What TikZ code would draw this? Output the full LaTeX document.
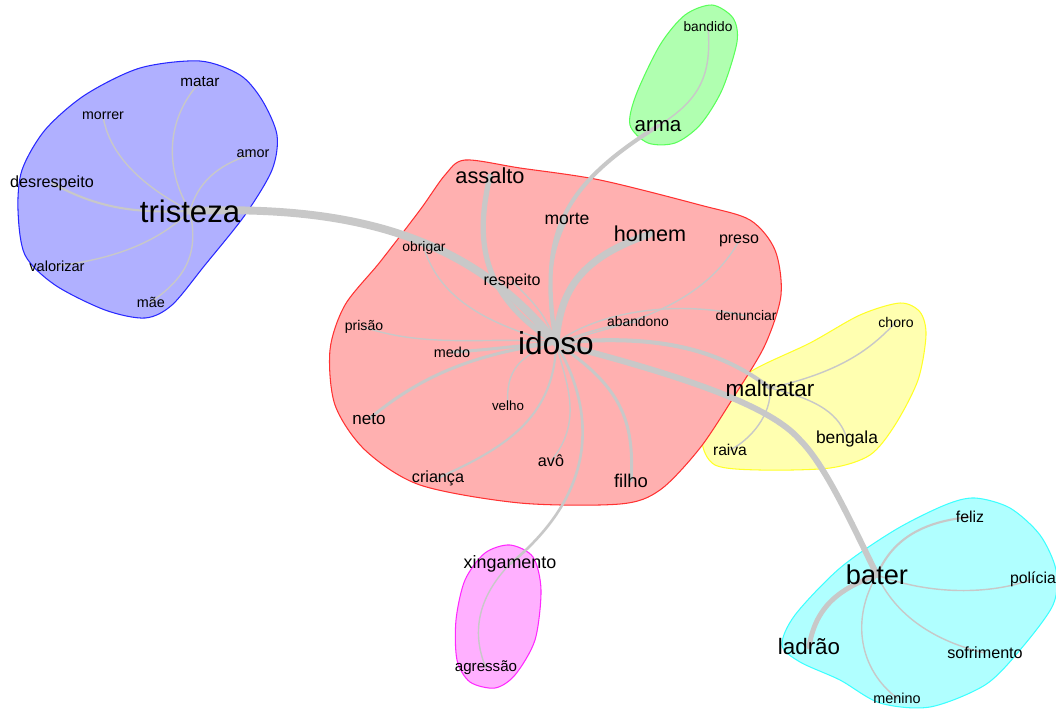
\documentclass[tikz,border=0pt]{standalone}
\usepackage{fontspec}
\setmainfont{Liberation Sans}
\usepackage{tikz}
\usetikzlibrary{backgrounds}
\usepackage{xcolor}
\definecolor{hullblue}{RGB}{176,176,255}
\definecolor{hullred}{RGB}{255,176,176}
\definecolor{hullgreen}{RGB}{176,255,176}
\definecolor{hullyellow}{RGB}{255,255,176}
\definecolor{hullcyan}{RGB}{176,255,255}
\definecolor{hullpink}{RGB}{255,176,255}
\definecolor{lineblue}{RGB}{40,40,255}
\definecolor{linered}{RGB}{255,50,50}
\definecolor{linegreen}{RGB}{90,255,90}
\definecolor{lineyellow}{RGB}{255,255,40}
\definecolor{linecyan}{RGB}{60,255,255}
\definecolor{linepink}{RGB}{255,40,255}
\definecolor{edgegray}{RGB}{200,200,200}

\begin{document}
\begin{tikzpicture}[x=0.02cm, y=-0.02cm,
  word/.style={inner sep=0pt, font=\fontsize{#1}{#1}\selectfont},
  edge/.style={draw=edgegray, line cap=round},
  hull/.style={line width=0.6pt, fill=hull#1, draw=line#1}]
  \useasboundingbox (0,0) rectangle (1056,708);
  % Words (center of the text, size in pt)
  \foreach \n/\x/\y/\s/\t in {idoso/556/343/18/idoso, assalto/490/176/12.4/assalto,
      morte/567/219/10/morte, homem/650/234/12.3/homem, preso/739/241/9.1/preso,
      obrigar/424/248/7.9/obrigar, respeito/512/281/9.1/respeito,
      abandono/638/322/7.9/abandono, denunciar/746/316/7.9/denunciar,
      prisao/364/327/8/prisão, medo/452/352/8.2/medo, neto/369/419/9.7/neto,
      velho/508/406/7.6/velho, avo/551/461/9.2/avô, crianca/438/478/9.2/criança,
      filho/631/481/10.5/filho}{
    \node[word=\s] (\n) at (\x,\y) {\t};
  }
  \foreach \n/\x/\y/\s/\t in {tristeza/190/211/17.7/tristeza, matar/200/82/8.7/matar,
      morrer/103/116/8.1/morrer, amor/253/154/8.2/amor,
      desrespeito/52/183/9.2/desrespeito, valorizar/57/266/8.3/valorizar,
      mae/151/302/8.2/mãe}{
    \node[word=\s] (\n) at (\x,\y) {\t};
  }
  \foreach \n/\x/\y/\s/\t in {arma/658/126/11.7/arma, bandido/708/27/7.8/bandido,
      maltratar/770/388/12.8/maltratar, choro/896/322/8/choro,
      raiva/730/450/8.9/raiva, bengala/847/439/9.9/bengala,
      bater/877/575/15.5/bater, feliz/970/517/9/feliz, policia/1033/579/9/polícia,
      ladrao/809/647/12.7/ladrão, sofrimento/985/653/9.2/sofrimento,
      menino/897/698/8.2/menino,
      xingamento/510/564/10.2/xingamento, agressao/486/668/8.6/agressão}{
    \node[word=\s] (\n) at (\x,\y) {\t};
  }

  \begin{scope}[on background layer]
  % Hulls
  \filldraw[hull=blue] plot[smooth cycle] coordinates {(200,61) (240,75)
    (262,100) (277,135) (272,170) (245,215) (205,265) (172,305) (145,318) (105,310)
    (55,285) (25,255) (18,210) (22,170) (45,130) (85,95) (140,68)};
  \filldraw[hull=yellow] plot[smooth cycle] coordinates {(900,303)
    (920,312) (926,335) (918,380) (895,425) (870,455) (830,468) (760,470) (715,465)
    (702,440) (715,405) (750,372) (810,343) (860,315)};
  \filldraw[hull=red] plot[smooth cycle] coordinates {(465,160) (520,168)
    (600,180) (700,205) (750,220) (775,250) (781,295) (765,345) (735,395) (700,448)
    (660,490) (620,504) (520,503) (420,485) (365,450) (335,405) (330,350) (345,305)
    (380,262) (420,210) (445,175)};
  \filldraw[hull=green] plot[smooth cycle] coordinates {(712,5) (733,18)
    (737,42) (722,90) (700,125) (675,143) (648,143) (630,125) (636,95) (660,45) (685,15)};
  \filldraw[hull=cyan] plot[smooth cycle] coordinates {(975,498) (1010,508)
    (1040,535) (1056,570) (1053,605) (1020,650) (985,685) (930,707) (880,703) (840,680)
    (800,662) (782,645) (795,615) (840,568) (895,530) (945,505)};
  \filldraw[hull=pink] plot[smooth cycle] coordinates {(510,545) (533,557)
    (541,590) (535,640) (515,675) (495,688) (470,682) (457,660) (456,620) (465,580)
    (485,553)};

  % Edges
  \foreach \a/\b/\w/\px/\py/\qx/\qy in {tristeza/idoso/4.5/350/205/470/235,
      idoso/assalto/3/480/295/475/240, idoso/morte/1.7/545/290/550/250,
      idoso/arma/2.3/540/240/555/190, idoso/homem/4/560/290/580/258,
      idoso/preso/0.8/620/325/700/310, idoso/denunciar/0.8/600/310/680/300,
      idoso/abandono/0.8/580/335/605/325, idoso/obrigar/0.8/490/325/440/300,
      idoso/respeito/0.8/545/310/525/295, idoso/prisao/0.8/500/335/430/350,
      idoso/medo/1.7/520/345/490/350, idoso/neto/1.7/460/355/410/385,
      idoso/velho/0.8/520/355/505/370, idoso/crianca/1.2/555/420/500/450,
      idoso/avo/0.8/565/380/585/420, idoso/filho/1.7/620/385/635/420,
      idoso/xingamento/1.5/595/410/600/490, idoso/maltratar/2.3/660/333/720/350,
      tristeza/matar/0.8/165/170/165/120, tristeza/morrer/0.8/150/190/110/160,
      tristeza/amor/0.8/197/185/215/165, tristeza/desrespeito/1.2/140/213/100/210,
      tristeza/valorizar/0.8/160/240/120/258, tristeza/mae/0.8/198/250/190/275,
      arma/bandido/0.8/700/100/712/75,
      maltratar/choro/0.8/840/372/870/350, maltratar/raiva/0.8/772/415/750/440,
      maltratar/bengala/0.8/820/400/840/415,
      bater/feliz/1.2/890/545/915/522, bater/policia/0.8/930/595/990/595,
      bater/ladrao/2.8/835/590/815/610, bater/sofrimento/0.8/900/625/950/645,
      bater/menino/0.8/850/620/860/670,
      xingamento/agressao/0.8/480/595/470/630}{
    \draw[edge, line width=\w pt] (\a.center) .. controls (\px,\py) and (\qx,\qy) .. (\b.center);
  }
  \draw[edge, line width=3.4pt] (idoso.center) .. controls (680,375) and (770,405) .. (800,440)
    .. controls (825,465) and (850,520) .. (bater.center);
  \end{scope}
\end{tikzpicture}
\end{document}
